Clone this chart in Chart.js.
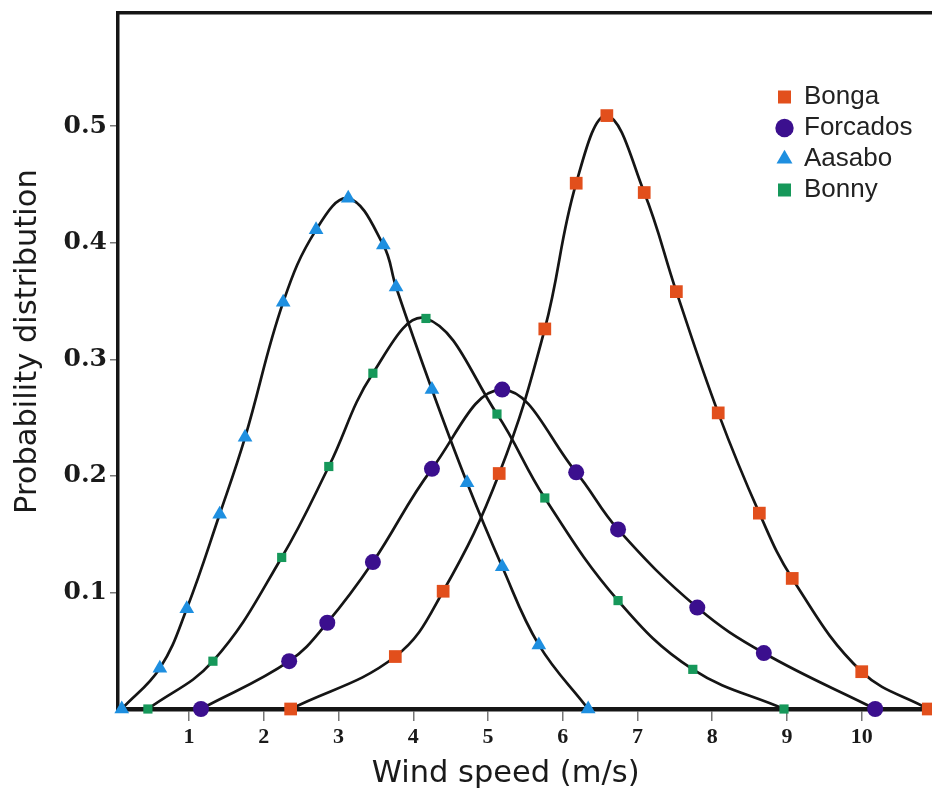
<!DOCTYPE html>
<html>
<head>
<meta charset="utf-8">
<title>Wind speed probability distribution</title>
<script src="https://cdn.jsdelivr.net/npm/chart.js@4.4.1/dist/chart.umd.min.js"></script>
<style>
  html, body { margin: 0; padding: 0; background: #ffffff; }
  #wrap { width: 932px; height: 793px; }
</style>
</head>
<body>
<div id="wrap"><canvas id="pdfChart" width="932" height="793"></canvas></div>
<script>
// values: wind speed (m/s) and probability for each site
const bongaX = [2.36, 3.76, 4.40, 5.15, 5.76, 6.18, 6.59, 7.09, 7.52, 8.08, 8.63, 9.07, 10.00, 10.89];
const bongaY = [0, 0.045, 0.101, 0.202, 0.326, 0.451, 0.509, 0.443, 0.358, 0.254, 0.168, 0.112, 0.032, 0];

const forcadosX = [1.16, 2.34, 2.85, 3.46, 4.25, 5.19, 6.18, 6.74, 7.80, 8.69, 10.18];
const forcadosY = [0, 0.041, 0.074, 0.126, 0.206, 0.274, 0.203, 0.154, 0.087, 0.048, 0];

const aasaboX = [0.10, 0.61, 0.97, 1.41, 1.75, 2.26, 2.70, 3.13, 3.60, 3.77, 4.25, 4.72, 5.19, 5.68, 6.34];
const aasaboY = [0, 0.035, 0.086, 0.167, 0.233, 0.349, 0.411, 0.438, 0.398, 0.362, 0.274, 0.194, 0.122, 0.055, 0];

const bonnyX = [0.45, 1.32, 2.24, 2.87, 3.46, 4.17, 5.12, 5.76, 6.74, 7.74, 8.96];
const bonnyY = [0, 0.041, 0.130, 0.208, 0.288, 0.335, 0.253, 0.181, 0.093, 0.034, 0];

const xTicks = [1, 2, 3, 4, 5, 6, 7, 8, 9, 10];
const yTicks = [0.1, 0.2, 0.3, 0.4, 0.5];

const toPoints = (xs, ys) => xs.map((x, i) => ({ x: x, y: ys[i] }));

function series(label, xs, ys, colour, style, radius) {
    return {
        label: label,
        data: toPoints(xs, ys),
        borderColor: '#151515',
        borderWidth: 2.7,
        tension: 0.4,
        pointStyle: style,
        pointRadius: radius,
        pointHoverRadius: radius,
        pointBackgroundColor: colour,
        pointBorderColor: colour,
        pointBorderWidth: 0,
        clip: false,
        fill: false
    };
}

// the legend sits inside the plot, top right
const legendSpot = {
    id: 'legendSpot',
    beforeDraw(chart) {
        const lg = chart.legend;
        const w = lg.width, h = lg.height;
        lg.left = 773; lg.top = 79;
        lg.right = lg.left + w; lg.bottom = lg.top + h;
    }
};

// keep the plot box exactly where the figure has it
const noEdgePad = s => { s.paddingLeft = 0; s.paddingRight = 0; s.paddingTop = 0; s.paddingBottom = 0; };

const ctx = document.getElementById('pdfChart').getContext('2d');
new Chart(ctx, {
    type: 'line',
    data: {
        datasets: [
            series('Bonga', bongaX, bongaY, '#e24f1c', 'rect', 9),
            series('Forcados', forcadosX, forcadosY, '#3b0f8e', 'circle', 8),
            series('Aasabo', aasaboX, aasaboY, '#1e8fe0', 'triangle', 8.5),
            series('Bonny', bonnyX, bonnyY, '#16985a', 'rect', 6.5)
        ]
    },
    options: {
        responsive: false,
        animation: false,
        layout: { autoPadding: false, padding: { left: 0, top: 13, right: 0, bottom: 0 } },
        plugins: {
            tooltip: { enabled: false },
            legend: {
                position: 'chartArea',
                align: 'start',
                labels: {
                    usePointStyle: true,
                    boxHeight: 13,
                    boxWidth: 13,
                    padding: 5,
                    color: '#222',
                    font: { family: 'Liberation Sans', size: 26, lineHeight: 1 }
                }
            }
        },
        scales: {
            x: {
                type: 'linear',
                position: 'bottom',
                min: 0.05,
                max: 10.94,
                afterBuildTicks: s => { s.ticks = xTicks.map(v => ({ value: v })); },
                afterFit: s => { s.height = 84; noEdgePad(s); },
                border: { display: true, color: '#151515', width: 4.5 },
                grid: { display: true, drawOnChartArea: false, drawTicks: true, tickLength: 12, color: '#777', lineWidth: 1.5 },
                ticks: {
                    padding: 3,
                    color: '#1a1a1a',
                    maxRotation: 0,
                    font: { family: 'Liberation Serif', weight: 'bold', size: 22 },
                    callback: v => String(v)
                },
                title: {
                    display: true,
                    text: 'Wind speed (m/s)    ',
                    color: '#1a1a1a',
                    font: { family: 'DejaVu Sans', size: 30.5 },
                    padding: { top: 0, bottom: 1 }
                }
            },
            xTop: {
                type: 'linear',
                position: 'top',
                min: 0,
                max: 1,
                afterFit: s => { s.height = 0; noEdgePad(s); },
                border: { display: true, color: '#151515', width: 3.5 },
                grid: { display: false },
                ticks: { display: false }
            },
            y: {
                type: 'linear',
                position: 'left',
                min: 0,
                max: 0.597,
                afterBuildTicks: s => { s.ticks = yTicks.map(v => ({ value: v })); },
                afterFit: s => { s.width = 118; noEdgePad(s); },
                border: { display: true, color: '#151515', width: 3.5 },
                grid: { display: true, drawOnChartArea: false, drawTicks: true, tickLength: 8, color: '#777', lineWidth: 1.5 },
                ticks: {
                    padding: 3,
                    color: '#1a1a1a',
                    font: { family: 'DejaVu Serif', weight: 'bold', size: 25 },
                    callback: v => v.toFixed(1)
                },
                title: {
                    display: true,
                    text: '    Probability distribution',
                    color: '#1a1a1a',
                    font: { family: 'DejaVu Sans', size: 30.5 },
                    padding: { top: 10, bottom: 0 }
                }
            }
        }
    },
    plugins: [legendSpot]
});
</script>
</body>
</html>
